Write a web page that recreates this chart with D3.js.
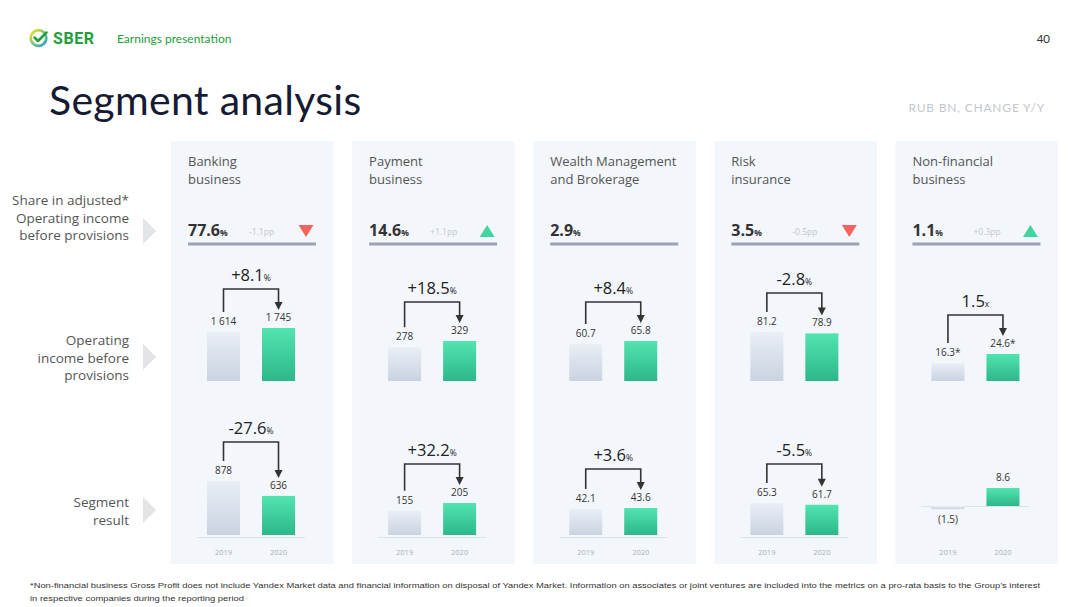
<!DOCTYPE html>
<html><head><meta charset="utf-8">
<script src="https://cdn.jsdelivr.net/npm/d3@7"></script>
<style>
html,body{margin:0;padding:0;background:#fff;}
svg{display:block;font-family:"Open Sans","Noto Sans",sans-serif;}
</style></head>
<body>
<svg id="chart" width="1080" height="607"></svg>
<script>
// ---------------- DATA ----------------
const segments = ["Banking business", "Payment business", "Wealth Management and Brokerage", "Risk insurance", "Non-financial business"];
const segmentTitleLines = [["Banking", "business"], ["Payment", "business"], ["Wealth Management", "and Brokerage"], ["Risk", "insurance"], ["Non-financial", "business"]];
const shareValues = ["77.6", "14.6", "2.9", "3.5", "1.1"];
const shareChanges = ["-1.1pp", "+1.1pp", null, "-0.5pp", "+0.3pp"];
const shareDirection = ["down", "up", null, "down", "up"];
const years = ["2019", "2020"];
const oi2019 = [1614, 278, 60.7, 81.2, 16.3];
const oi2020 = [1745, 329, 65.8, 78.9, 24.6];
const oiLabels2019 = ["1 614", "278", "60.7", "81.2", "16.3*"];
const oiLabels2020 = ["1 745", "329", "65.8", "78.9", "24.6*"];
const oiChange = ["+8.1", "+18.5", "+8.4", "-2.8", "1.5"];
const oiChangeUnit = ["%", "%", "%", "%", "x"];
const sr2019 = [878, 155, 42.1, 65.3, -1.5];
const sr2020 = [636, 205, 43.6, 61.7, 8.6];
const srLabels2019 = ["878", "155", "42.1", "65.3", "(1.5)"];
const srLabels2020 = ["636", "205", "43.6", "61.7", "8.6"];
const srChange = ["-27.6", "+32.2", "+3.6", "-5.5", null];
const srChangeUnit = ["%", "%", "%", "%", null];
const rowLabels = [["Share in adjusted*", "Operating income", "before provisions"], ["Operating", "income before", "provisions"], ["Segment", "result"]];

// ---------------- LAYOUT (sizes only) ----------------
const oiMaxPx = [53, 40, 40, 49, 27];
const srMaxPx = [54, 32, 27, 32, 18];
const oiBase = 381;
const srBase = [535, 535, 535, 535, 506];
const panelTop = 141, panelBottom = 564;

const svg = d3.select("#chart");
const defs = svg.append("defs");
function lin(id, c1, c2, x2, y2) {
  const g = defs.append("linearGradient").attr("id", id).attr("x1", 0).attr("y1", 0).attr("x2", x2).attr("y2", y2);
  g.append("stop").attr("offset", "0%").attr("stop-color", c1);
  g.append("stop").attr("offset", "100%").attr("stop-color", c2);
}
lin("g2019", "#eaeef5", "#c9d3e1", 0, 1);
lin("g2020", "#52e4b0", "#2db78a", 0, 1);
lin("logoG", "#f2e21c", "#1fa0d8", 1, 1);

// ---------------- HEADER ----------------
const hdr = svg.append("g");
hdr.append("circle").attr("cx", 38.5).attr("cy", 38).attr("r", 7.8).attr("fill", "none")
  .attr("stroke", "url(#logoG)").attr("stroke-width", 2.8);
hdr.append("path").attr("d", "M34.5,37.5 L38,41 L46.5,32.5").attr("fill", "none").attr("stroke", "#21a038").attr("stroke-width", 2.5)
  .attr("stroke-linecap", "round").attr("stroke-linejoin", "round");
hdr.append("text").attr("x", 53).attr("y", 44).text("SBER")
  .attr("font-family", "Roboto, sans-serif").attr("font-weight", 700).attr("font-size", 16).attr("letter-spacing", 0.6).attr("fill", "#21a038");
hdr.append("text").attr("x", 117).attr("y", 42.5).text("Earnings presentation")
  .attr("font-family", "Lato, sans-serif").attr("font-size", 12).attr("fill", "#21a038");
hdr.append("text").attr("x", 1050).attr("y", 42.5).attr("text-anchor", "end").text("40")
  .attr("font-family", "Lato, sans-serif").attr("font-size", 11.5).attr("fill", "#333");
hdr.append("text").attr("x", 49).attr("y", 115).text("Segment analysis")
  .attr("font-family", "Lato, sans-serif").attr("font-size", 41).attr("letter-spacing", 0.3).attr("fill", "#161b33");
hdr.append("text").attr("x", 1045).attr("y", 112).attr("text-anchor", "end").text("RUB BN, CHANGE Y/Y")
  .attr("font-family", "Lato, sans-serif").attr("font-size", 12).attr("fill", "#c4c7cc").attr("letter-spacing", 0.8);

// ---------------- ROW LABELS ----------------
const rowY = [205, 345, 507];
const rowArrowY = [231, 357, 510];
rowLabels.forEach((lines, i) => {
  const t = svg.append("text").attr("x", 129).attr("text-anchor", "end")
    .attr("font-size", 13.5).attr("fill", "#555");
  lines.forEach((l, j) => t.append("tspan").attr("x", 129).attr("y", rowY[i] + j * 17.5).text(l));
  svg.append("path").attr("d", `M143,${rowArrowY[i] - 13} L156,${rowArrowY[i]} L143,${rowArrowY[i] + 13} Z`).attr("fill", "#e2e4e8");
});

// ---------------- PANELS ----------------
const px = d3.scaleBand().domain(segments).range([171, 1058]).paddingInner(0.1025);
const yearX = d3.scalePoint().domain(years).range([52.5, 107.5]);
const barW = 33;

segments.forEach((seg, i) => {
  const g = svg.append("g").attr("transform", `translate(${px(seg)},0)`);
  const bw = px.bandwidth();
  g.append("rect").attr("x", 0).attr("y", panelTop).attr("width", bw).attr("height", panelBottom - panelTop).attr("fill", "#f3f6fb");

  // title
  const tt = g.append("text").attr("font-size", 13).attr("fill", "#555");
  segmentTitleLines[i].forEach((l, j) => tt.append("tspan").attr("x", 17).attr("y", 166 + j * 18).text(l));

  // share row
  const st = g.append("text").attr("x", 17).attr("y", 236).attr("fill", "#333");
  st.append("tspan").text(shareValues[i]).attr("font-size", 16).attr("font-weight", 700);
  st.append("tspan").text("%").attr("font-size", 8.5).attr("font-weight", 700);
  if (shareChanges[i]) {
    g.append("text").attr("x", 78).attr("y", 235).text(shareChanges[i]).attr("font-size", 8.5).attr("fill", "#c3c7ce");
    const cx = 135, cy = 231;
    const d = shareDirection[i] === "down"
      ? `M${cx - 7.5},${cy - 6} L${cx + 7.5},${cy - 6} L${cx},${cy + 6} Z`
      : `M${cx - 7.5},${cy + 6} L${cx + 7.5},${cy + 6} L${cx},${cy - 6} Z`;
    g.append("path").attr("d", d).attr("fill", shareDirection[i] === "down" ? "#f4645c" : "#3fd6a1");
  }
  g.append("line").attr("x1", 17).attr("x2", 145).attr("y1", 244).attr("y2", 244).attr("stroke", "#9aa2b3").attr("stroke-width", 3);

  // bar groups
  function barGroup(v19, v20, lab19, lab20, maxPx, base, change, unit, axis) {
    const maxV = Math.max(Math.abs(v19), Math.abs(v20));
    const y = d3.scaleLinear().domain([0, maxV]).range([base, base - maxPx]);
    const vals = [v19, v20], labs = [lab19, lab20];
    const labY = [];
    if (axis) {
      const ay = base + (base === 535 ? 2.5 : 0.5);
      g.append("line").attr("x1", 26).attr("x2", 134).attr("y1", ay).attr("y2", ay)
        .attr("stroke", "#dde2ea").attr("stroke-width", 1.2);
    }
    years.forEach((yr, k) => {
      const v = vals[k];
      const top = Math.min(y(v), y(0)), h = Math.max(Math.abs(y(v) - y(0)), 1);
      g.append("rect").attr("x", yearX(yr) - barW / 2).attr("y", top).attr("width", barW).attr("height", h)
        .attr("fill", k === 0 ? "url(#g2019)" : "url(#g2020)");
      const ly = v >= 0 ? y(v) - 7 : y(v) + 14;
      labY.push(ly);
      g.append("text").attr("x", yearX(yr)).attr("y", ly).attr("text-anchor", "middle").text(labs[k])
        .attr("font-size", 10).attr("fill", "#333");
    });
    if (change) {
      const topB = Math.min(y(v19), y(v20)) - 39;
      const x1 = yearX(years[0]), x2 = yearX(years[1]);
      const leftEnd = labY[0] - 13, tip = labY[1] - 11;
      g.append("path").attr("d", `M${x1},${leftEnd} L${x1},${topB} L${x2},${topB} L${x2},${tip - 7}`)
        .attr("fill", "none").attr("stroke", "#333").attr("stroke-width", 1.6);
      g.append("path").attr("d", `M${x2 - 4},${tip - 8} L${x2 + 4},${tip - 8} L${x2},${tip} Z`).attr("fill", "#333");
      const ct = g.append("text").attr("x", (x1 + x2) / 2).attr("y", topB - 8).attr("text-anchor", "middle").attr("fill", "#222");
      ct.append("tspan").text(change).attr("font-size", 16.5);
      ct.append("tspan").text(unit).attr("font-size", 8.5);
    }
  }
  barGroup(oi2019[i], oi2020[i], oiLabels2019[i], oiLabels2020[i], oiMaxPx[i], oiBase, oiChange[i], oiChangeUnit[i], false);
  barGroup(sr2019[i], sr2020[i], srLabels2019[i], srLabels2020[i], srMaxPx[i], srBase[i], srChange[i], srChangeUnit[i], true);

  years.forEach(yr => g.append("text").attr("x", yearX(yr)).attr("y", 555).attr("text-anchor", "middle").text(yr)
    .attr("font-size", 7.5).attr("fill", "#aab0b8"));
});

// ---------------- FOOTNOTE ----------------
const foot = svg.append("text").attr("font-family", "'Liberation Sans Narrow','Liberation Sans',sans-serif").attr("font-size", 8).attr("fill", "#333");
foot.append("tspan").attr("x", 30).attr("y", 588)
  .text("*Non-financial business Gross Profit does not include Yandex Market data and financial information on disposal of Yandex Market. Information on associates or joint ventures are included into the metrics on a pro-rata basis to the Group\u2019s interest")
  .attr("textLength", 1010).attr("lengthAdjust", "spacingAndGlyphs");
foot.append("tspan").attr("x", 30).attr("y", 601).text("in respective companies during the reporting period")
  .attr("textLength", 214).attr("lengthAdjust", "spacingAndGlyphs");
</script>
</body></html>
